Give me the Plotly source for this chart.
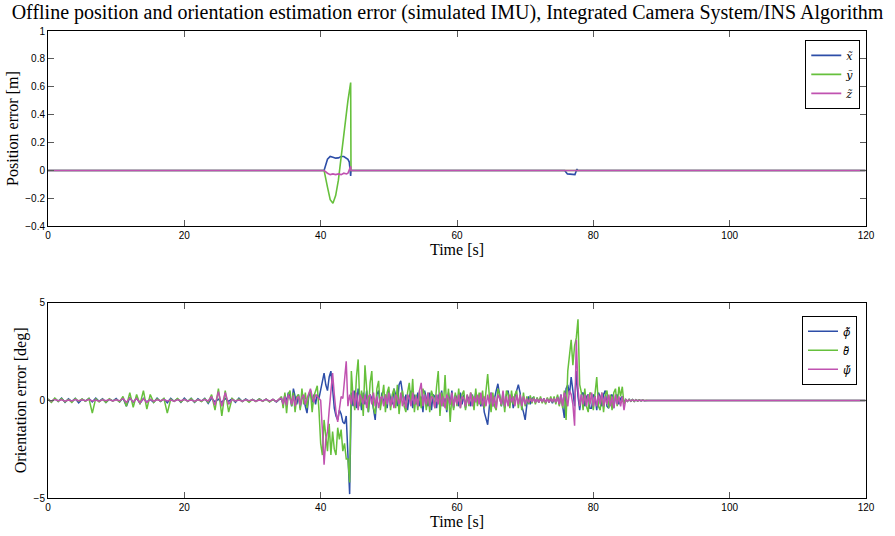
import plotly.graph_objects as go
from plotly.subplots import make_subplots

# ---------------- data: position error (top) ----------------
t_pos = [0, 40.5, 41.0, 41.4, 41.8, 42.2, 42.6, 43.0, 43.4, 43.8, 44.0, 44.2, 44.4, 44.45, 44.5,
         75.8, 76.2, 76.8, 77.3, 77.6, 77.7, 119.9]
x_err = [0, 0, 0.08, 0.10, 0.095, 0.088, 0.09, 0.10, 0.10, 0.09, 0.08, 0.06, -0.04, 0.0, 0,
         0, -0.025, -0.03, -0.03, 0.01, 0, 0]
y_err = [0, 0, -0.12, -0.21, -0.236, -0.18, -0.07, 0.08, 0.25, 0.42, 0.50, 0.57, 0.63, 0.0, 0,
         0, 0, 0, 0, 0, 0, 0]
z_err = [0, 0, -0.02, -0.03, -0.025, -0.03, -0.025, -0.03, -0.02, -0.025, -0.02, 0.0, 0.03, 0.0, 0,
         0, 0, 0, 0, 0, 0, 0]

# ---------------- data: orientation error (bottom) ----------------
# times: 0..34 s every 0.5 s, 34.25..88 s every 0.25 s, then 119.9 s
t_ori = [i * 0.5 for i in range(69)] + [34 + 0.25 * (i + 1) for i in range(216)] + [119.9]

phi_err = [
    0.05, -0.08, 0.1, -0.05, 0.12, -0.1, 0.08, -0.06, 0.1, -0.12, 0.06, -0.04, 0.1, -0.08, 0.12, -0.05, 0.08, -0.1, 0.06, -0.03,
    0.1, -0.08, 0.12, -0.3, 0.15, -0.1, 0.12, -0.15, 0.1, -0.08, 0.05, -0.1, 0.12, -0.06, 0.08, -0.12, 0.1, -0.05, 0.08, -0.1,
    0.12, -0.06, 0.1, -0.1, 0.08, -0.05, 0.1, -0.15, 0.12, -0.08, 0.06, -0.1, 0.1, -0.05, 0.08, -0.1, 0.12, -0.06, 0.08, -0.05,
    0.05, -0.05, 0.08, -0.04, 0.06, -0.06, 0.05, -0.08, 0.06,
    0.1, -0.2, 0.3, -0.1, 0.4, 0.2, -0.3, 0.6, 0.1, -0.2, 0.3, -0.4, 0.2, 0.1, -0.3, -0.65, 0.2, 0.5, -0.1, 0.3,
    -0.2, 0.3, 0.1, 0.6, 0.9, 1.4, 0.8, 0.5, 1.2, 1.5, 0.6, -0.4, -0.8, -1.0, -0.5, -0.7, -1.1, -1.2, -0.8, -2.5,
    -4.8, 0.4, -0.3, 0.5, -0.4, 0.6, 0.2, -0.5, 0.4, -0.2, 0.5, -0.6, 0.3, 0.1, -0.4, -1.0, 0.3, 0.5, -0.3, 0.4,
    -0.2, 0.3, -0.4, 0.5, 0.1, -0.2, 0.6, 0.3, -0.3, 0.8, 1.0, 0.4, -0.2, 0.3, -0.5, 0.2, 0.5, -0.4, 0.3, -0.2,
    0.4, -0.3, 0.2, -0.6, 0.5, 0.1, -0.3, 0.4, -0.5, 0.3, 0.2, -0.4, 0.3, -0.2, 0.5, -0.3, 0.1, -0.6, 0.4, -0.2,
    0.5, -0.4, 0.3, 0.1, -0.3, 0.4, -0.2, 0.3, -0.4, 0.2, 0.1, -0.3, 0.3, -0.2, 0.4, -0.1, 0.2, -0.3, 0.2, -0.6,
    -0.9, -1.25, -0.3, 0.4, -0.3, 0.2, 0.5, 0.85, 0.3, -0.3, 0.2, -0.4, 0.3, 0.5, -0.2, 0.3, -0.4, 0.2, 0.5, 0.8,
    0.4, -0.3, -0.6, -1.0, -0.2, 0.2, -0.2, 0.1, 0.15, -0.1, 0.12, -0.1, 0.1, -0.08, 0.1, -0.12, 0.1, -0.1, 0.08, -0.15,
    0.1, -0.1, 0.2, -0.2, 0.3, -0.4, -0.9, 0.6, 0.8, 0.3, 1.2, 0.5, -0.3, 1.5, 0.2, -0.5, 0.3, 0.4, -0.3, 0.2,
    0.3, -0.4, -0.4, 0.3, 0.2, -0.5, 0.4, 0.2, -0.3, 0.3, 0.5, -0.3, -0.4, 0.2, 0.3, -0.4, 0.2, 0.3, -0.2, 0.1,
    0.2, -0.1, 0.05, -0.05, 0.05, -0.04, 0.04, -0.05, 0.03, -0.03, 0.03, -0.02, 0.02, -0.02, 0.01, 0.0,
    0.0]
theta_err = [
    0.08, -0.1, 0.12, -0.06, 0.1, -0.08, 0.05, -0.1, 0.1, -0.05, 0.08, -0.05, 0.1, -0.65, 0.1, -0.08, 0.06, -0.1, 0.08, -0.04,
    0.05, -0.08, 0.2, -0.3, 0.4, -0.35, 0.3, -0.2, 0.5, -0.45, 0.3, -0.1, 0.08, -0.05, 0.1, -0.65, 0.06, -0.05, 0.1, -0.08,
    0.06, -0.05, 0.1, -0.08, 0.05, -0.06, 0.08, -0.1, 0.3, -0.5, 0.6, -0.8, 0.5, -0.6, 0.1, -0.05, 0.08, -0.06, 0.05, -0.1,
    0.05, -0.06, 0.08, -0.05, 0.06, -0.08, 0.05, -0.06, 0.1,
    0.2, -0.4, 0.4, -0.65, 0.3, 0.5, -0.3, 0.4, -0.6, 0.2, 0.3, -0.5, 0.6, -0.2, 0.4, -0.4, 0.3, 0.5, -0.6, 0.2,
    0.5, 0.75, -0.5, -2.2, -2.8, -1.0, -1.8, -2.6, -1.2, -2.8, -1.6, -2.5, -2.8, -1.4, -2.0, -1.5, -2.6, -2.2, -3.0, -3.0,
    -4.2, 1.5, 0.2, -0.5, 1.2, 2.1, -0.3, 0.5, -0.8, 1.8, 0.6, -0.6, 0.9, 1.5, -0.4, -0.7, 0.6, 1.0, -0.5, 0.3,
    0.8, -0.6, 0.4, 0.7, -0.5, 0.3, 0.6, -0.4, 0.8, -0.7, 0.2, 0.5, -0.3, -0.6, 0.4, 0.9, -0.2, 1.1, -0.6, 0.3,
    -0.5, 0.5, -0.4, 0.6, 0.3, -0.5, 0.4, -0.6, 0.5, 0.2, -0.4, 0.7, 1.5, -0.8, 0.4, -0.3, 1.3, -0.5, 0.6, -1.1,
    0.3, -0.5, 0.4, -0.3, 0.6, -0.4, 0.3, 0.5, -0.5, 0.3, -0.3, 0.4, 0.2, -0.5, 0.6, -0.3, 0.4, -0.2, 0.5, -0.4,
    0.6, 1.35, 0.2, -0.6, 0.4, -0.3, -0.5, 0.6, 0.3, -0.3, 0.4, -0.6, 0.5, 0.3, -0.4, 0.5, -0.2, 0.3, 0.5, -0.4,
    0.3, -0.5, 0.4, -0.3, 0.2, -0.2, 0.25, -0.15, 0.2, -0.2, 0.15, -0.1, 0.2, -0.15, 0.1, -0.2, 0.15, -0.1, 0.2, -0.1,
    0.2, -0.2, 0.3, -0.3, 0.2, -0.4, 0.5, -1.0, 1.5, 2.5, 3.1, 1.8, 2.8, 3.2, 4.15, 0.8, 0.4, -0.5, 0.6, -0.3,
    -0.6, 0.4, 0.3, -0.5, 0.5, 1.2, -0.3, -0.5, 0.4, -0.6, 0.3, 0.5, -0.4, 0.3, -0.5, 0.4, 0.6, -0.3, 0.7, 0.2,
    0.7, -0.2, 0.06, -0.05, 0.05, -0.04, 0.04, -0.05, 0.03, -0.03, 0.03, -0.02, 0.02, -0.02, 0.01, 0.0,
    0.0]
psi_err = [
    0.02, -0.03, 0.04, -0.02, 0.03, -0.04, 0.02, -0.03, 0.04, -0.02, 0.03, -0.02, 0.04, -0.03, 0.02, -0.04, 0.03, -0.02, 0.04, -0.03,
    0.03, -0.02, 0.1, -0.1, 0.12, -0.08, 0.1, -0.12, 0.08, -0.1, 0.05, -0.04, 0.03, -0.02, 0.04, -0.03, 0.02, -0.04, 0.03, -0.02,
    0.04, -0.03, 0.02, -0.04, 0.03, -0.02, 0.04, -0.03, 0.2, -0.25, 0.45, -0.3, 0.4, -0.2, 0.04, -0.03, 0.02, -0.04, 0.03, -0.02,
    0.03, -0.04, 0.02, -0.03, 0.05, -0.04, 0.05, -0.06, 0.1,
    0.1, -0.2, 0.2, -0.25, 0.3, 0.1, -0.2, 0.25, -0.3, 0.1, 0.2, -0.25, 0.15, 0.3, -0.2, 0.1, 0.4, 0.6, 0.2, -0.1,
    0.3, 0.2, 0.1, 0.0, -1.5, -3.3, -2.0, -1.6, -0.5, 0.6, 1.4, 0.3, -0.6, -1.1, -0.4, 0.2, 0.1, 1.0, 2.0, -0.3,
    0.3, -0.2, 0.5, -0.3, 0.4, -0.5, 0.3, 0.1, -0.2, 0.3, -0.4, 0.2, 0.3, -0.2, 0.4, -0.3, 0.2, -0.4, 0.1, 0.2,
    -0.3, 0.3, -0.2, 0.4, -0.3, 0.2, -0.4, 0.3, 0.1, -0.2, 0.4, -0.3, 0.2, -0.4, 0.3, 0.1, -0.3, 0.4, -0.2, 0.2,
    -0.3, 0.5, 0.9, -0.3, 0.3, -0.2, 0.4, -0.3, 0.2, 0.1, -0.4, 0.3, -0.2, 0.4, -0.3, 0.2, -0.4, 0.3, 0.1, -0.2,
    0.4, -0.3, 0.2, -0.2, 0.3, -0.4, 0.2, 0.1, -0.3, 0.3, -0.2, 0.4, -0.3, 0.2, -0.1, 0.3, -0.2, 0.4, -0.3, 0.2,
    -0.3, 0.3, -0.2, 0.4, -0.3, 0.2, -0.4, 0.3, 0.1, -0.2, 0.5, -0.3, 0.2, -0.3, 0.3, -0.1, 0.2, -0.3, 0.3, -0.2,
    0.3, -0.3, 0.2, -0.2, 0.1, -0.1, 0.1, -0.08, 0.1, -0.1, 0.08, -0.1, 0.1, -0.08, 0.1, -0.1, 0.08, -0.1, 0.1, -0.08,
    0.1, -0.1, 0.15, -0.2, 0.3, -0.3, 0.4, 0.2, -0.3, 0.5, 0.3, -0.2, -1.3, 3.1, 0.6, -0.3, 0.3, -0.2, 0.3, -0.3,
    0.3, -0.2, 0.4, -0.3, 0.2, -0.3, 0.3, -0.2, 0.4, -0.3, 0.2, -0.2, 0.3, -0.3, 0.2, -0.4, 0.3, -0.2, 0.2, -0.3,
    0.2, -0.5, 0.04, -0.03, 0.03, -0.02, 0.03, -0.02, 0.02, -0.02, 0.01, -0.01, 0.01, -0.01, 0.0, 0.0,
    0.0]

x_ticks = [0, 20, 40, 60, 80, 100, 120]
pos_ticks = [-0.4, -0.2, 0, 0.2, 0.4, 0.6, 0.8, 1]
pos_ticklabels = ["\u22120.4", "\u22120.2", "0", "0.2", "0.4", "0.6", "0.8", "1"]
ori_ticks = [-5, 0, 5]
ori_ticklabels = ["\u22125", "0", "5"]

BLUE = "rgb(45,78,168)"
GREEN = "rgb(102,192,60)"
MAGENTA = "rgb(192,82,176)"
SERIF = "Liberation Serif"
LEGSERIF = "DejaVu Serif"
SANS = "Liberation Sans"

fig = make_subplots(rows=2, cols=1, vertical_spacing=0.164)

lw = 1.5
fig.add_trace(go.Scatter(x=t_pos, y=x_err, mode="lines", name="<i>x\u0303</i>",
                         line=dict(color=BLUE, width=1.6), legend="legend"), row=1, col=1)
fig.add_trace(go.Scatter(x=t_pos, y=y_err, mode="lines", name="<i>y\u0303</i>",
                         line=dict(color=GREEN, width=1.6), legend="legend"), row=1, col=1)
fig.add_trace(go.Scatter(x=t_pos, y=z_err, mode="lines", name="<i>z\u0303</i>",
                         line=dict(color=MAGENTA, width=1.6), legend="legend"), row=1, col=1)

fig.add_trace(go.Scatter(x=t_ori, y=phi_err, mode="lines", name="<i>\u03d5\u0303</i>",
                         line=dict(color=BLUE, width=lw), legend="legend2"), row=2, col=1)
fig.add_trace(go.Scatter(x=t_ori, y=theta_err, mode="lines", name="<i>\u03b8\u0303</i>",
                         line=dict(color=GREEN, width=lw), legend="legend2"), row=2, col=1)
fig.add_trace(go.Scatter(x=t_ori, y=psi_err, mode="lines", name="<i>\u03c8\u0303</i>",
                         line=dict(color=MAGENTA, width=lw), legend="legend2"), row=2, col=1)

axis_common = dict(showline=True, linecolor="black", linewidth=1, mirror="ticks",
                   ticks="inside", ticklen=6, tickcolor="rgb(90,90,90)", showgrid=False,
                   zeroline=False, tickfont=dict(family=SANS, size=10, color="black"))

for r in (1, 2):
    fig.update_xaxes(range=[0, 120], tickvals=x_ticks, row=r, col=1,
                     title=dict(text="Time [s]", font=dict(family=SERIF, size=16, color="black"), standoff=0),
                     **axis_common)

fig.update_yaxes(range=[-0.4, 1], tickvals=pos_ticks, ticktext=pos_ticklabels, row=1, col=1,
                 title=dict(text="Position error [m]", font=dict(family=SERIF, size=16, color="black"), standoff=2),
                 **axis_common)
fig.update_yaxes(range=[-5, 5], tickvals=ori_ticks, ticktext=ori_ticklabels, row=2, col=1,
                 title=dict(text="Orientation error [deg]", font=dict(family=SERIF, size=16, color="black"), standoff=2),
                 **axis_common)

legend_common = dict(bgcolor="white", bordercolor="black", borderwidth=1,
                     xanchor="right", yanchor="top", itemwidth=30, tracegroupgap=0)

fig.update_layout(
    width=895, height=536,
    margin=dict(l=48, r=29, t=31, b=36),
    plot_bgcolor="white", paper_bgcolor="white",
    title=dict(text="Offline position and orientation estimation error (simulated IMU), Integrated Camera System/INS Algorithm",
               x=0.5, xanchor="center", y=1 - 12 / 536, yanchor="middle",
               font=dict(family=SERIF, size=20, color="black")),
    legend=dict(x=0.993, y=0.981, font=dict(family=LEGSERIF, size=11, color="black"), **legend_common),
    legend2=dict(x=0.989, y=0.390, font=dict(family="Noto Sans", size=11, color="black"), **legend_common),
    showlegend=True,
)

fig.write_html("out.html")
